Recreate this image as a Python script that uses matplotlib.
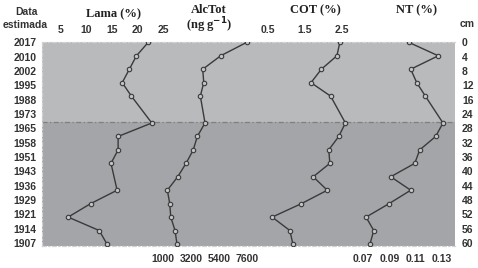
import matplotlib
matplotlib.use("Agg")
import matplotlib.pyplot as plt
import numpy as np

# ---- data ----
depths = [0, 4, 8, 12, 16, 24, 28, 32, 36, 40, 44, 48, 52, 56, 60]
depths_lama = [0, 4, 8, 12, 16, 24, 28, 32, 36, 44, 48, 52, 56, 60]
lama = [22.1, 19.8, 18.4, 17.0, 18.8, 22.8, 16.2, 16.2, 14.8, 16.0, 10.8, 6.4, 12.5, 14.0]
alctot = [7600, 5540, 4120, 4200, 3930, 4300, 3690, 3370, 2800, 2140, 1320, 1510, 1590, 1930, 2080]
cot = [2.45, 2.37, 1.95, 1.67, 2.20, 2.60, 2.42, 2.15, 2.18, 1.73, 2.11, 1.41, 0.62, 1.10, 1.18]
nt = [0.1048, 0.1274, 0.1063, 0.1109, 0.1175, 0.1310, 0.1254, 0.1132, 0.1094, 0.0910,
      0.1063, 0.0897, 0.0721, 0.0780, 0.0751]
year_labels = ["2017", "2010", "2002", "1995", "1988", "1973", "1965", "1958", "1951",
               "1943", "1936", "1929", "1921", "1914", "1907"]
cm_labels = ["0", "4", "8", "12", "16", "24", "28", "32", "36", "40", "44", "48", "52",
             "56", "60"]
lama_ticks = [5, 10, 15, 20, 25]
alc_ticks = [1000, 3200, 5400, 7600]
cot_ticks = [0.5, 1.5, 2.5]
nt_ticks = [0.07, 0.09, 0.11, 0.13]
boundary_depth = 23.7

W, H = 478, 268
fig = plt.figure(figsize=(W / 100, H / 100), dpi=100)
fig.patch.set_facecolor("white")

x0, x1, y0, y1 = 42, 455, 42, 246
rect = [x0 / W, 1 - y1 / H, (x1 - x0) / W, (y1 - y0) / H]
ylim = (60.6, -0.1)

sans = ["Liberation Sans", "DejaVu Sans"]
serif = ["Liberation Serif", "DejaVu Serif"]
tick_color = "#333333"

# background axes
bg = fig.add_axes(rect)
bg.set_ylim(*ylim)
bg.set_xlim(0, 1)
bg.axhspan(-0.1, boundary_depth, color="#b9babc", lw=0)
bg.axhspan(boundary_depth, 60.6, color="#a4a5a8", lw=0)
bg.axhline(boundary_depth, color="#7f7f80", lw=0.9, ls=(0, (4, 2, 1, 2)))
for s in ["left", "bottom", "top"]:
    bg.spines[s].set_color("#d2d2d2")
    bg.spines[s].set_linestyle((0, (3, 2, 1, 2)))
    bg.spines[s].set_linewidth(0.9)
bg.spines["right"].set_visible(False)
bg.set_xticks([])
tick_pos = np.linspace(0, 59.7, 15)
bg.set_yticks(tick_pos)
bg.set_yticklabels(year_labels)
bg.tick_params(axis="y", length=0, pad=4, labelsize=7.5, labelcolor=tick_color)
for t in bg.get_yticklabels():
    t.set_fontweight("bold")
    t.set_family(sans)

# right cm labels
rt = bg.twinx()
rt.set_ylim(*ylim)
rt.set_yticks(tick_pos)
rt.set_yticklabels(cm_labels)
rt.tick_params(axis="y", length=0, pad=5, labelsize=7.5, labelcolor=tick_color)
for t in rt.get_yticklabels():
    t.set_fontweight("bold")
    t.set_family(sans)
for s in rt.spines.values():
    s.set_visible(False)

line_kw = dict(color="#3a3a3a", lw=1.0, marker="o", ms=3.2, mfc="#c4c4c4",
               mec="#3a3a3a", mew=0.8)

def series_axes(xlim, xd, yd, ticks, top):
    ax = fig.add_axes(rect)
    ax.patch.set_visible(False)
    for s in ax.spines.values():
        s.set_visible(False)
    ax.plot(xd, yd, **line_kw)
    ax.set_xlim(*xlim)
    ax.set_ylim(*ylim)
    ax.set_yticks([])
    ax.set_xticks(ticks)
    ax.set_xticklabels([f"{t:g}" for t in ticks])
    if top:
        ax.xaxis.tick_top()
        ax.tick_params(axis="x", length=0, pad=5, labelsize=7.5, labelcolor=tick_color)
    else:
        ax.tick_params(axis="x", length=0, pad=6, labelsize=7.5, labelcolor=tick_color)
    for t in ax.get_xticklabels():
        t.set_fontweight("bold")
        t.set_family(sans)
    return ax

series_axes((1.275, 82.25), lama, depths_lama, lama_ticks, True)
series_axes((-8597, 24078), alctot, depths, alc_ticks, False)
series_axes((-5.6, 5.562), cot, depths, cot_ticks, True)
series_axes((-0.176, 0.1402), nt, depths, nt_ticks, False)

def ftext(x, y, s, **kw):
    fig.text(x / W, 1 - y / H, s, ha="center", va="center", **kw)

ftext(113, 14, "Lama (%)", family=serif, fontweight="bold", fontsize=9, color="#222222")
ftext(209, 10, "AlcTot", family=serif, fontweight="bold", fontsize=9, color="#222222")
ftext(209, 25, r"(ng g$^{\mathbf{-1}}$)", family=serif, fontweight="bold", fontsize=9,
      color="#222222")
ftext(315, 10, "COT (%)", family=serif, fontweight="bold", fontsize=9, color="#222222")
ftext(417, 10, "NT (%)", family=serif, fontweight="bold", fontsize=9, color="#222222")
ftext(27, 12, "Data", family=sans, fontweight="bold", fontsize=7.5, color="#333333")
ftext(25, 25, "estimada", family=sans, fontweight="bold", fontsize=7.5, color="#333333")
ftext(467, 24, "cm", family=sans, fontweight="bold", fontsize=7.5, color="#333333")

fig.savefig("out.png", dpi=100)
